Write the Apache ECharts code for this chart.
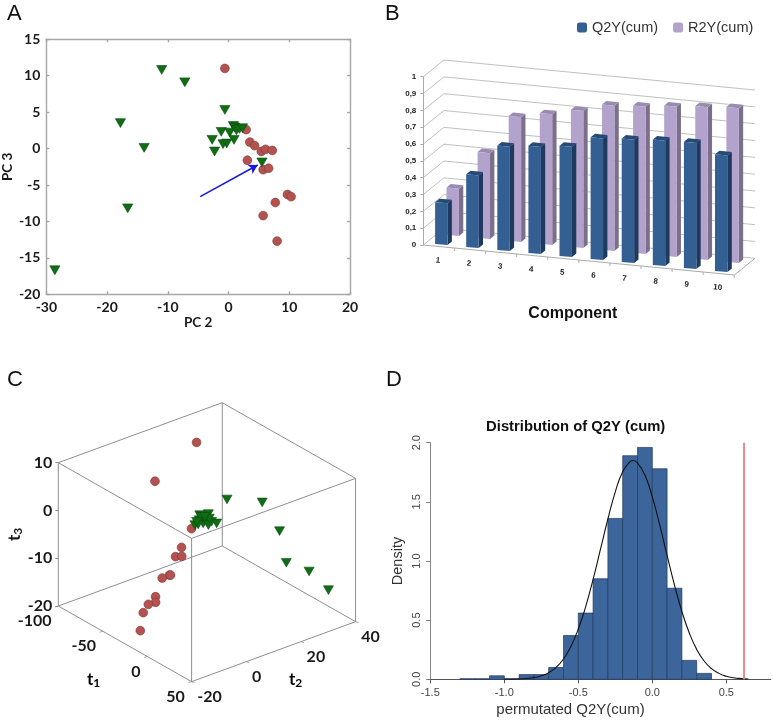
<!DOCTYPE html>
<html>
<head>
<meta charset="utf-8">
<style>html,body{margin:0;padding:0;background:#fff}#c{width:773px;height:720px}</style>
<script src="https://cdn.jsdelivr.net/npm/echarts@6/dist/echarts.min.js"></script>
</head>
<body>
<div id="c"></div>
<script>
// Panel A
const pcRed = [[-0.6,11],[2.9,2.6],[3.5,0.9],[4.3,0.4],[5.4,-0.4],[6.1,-0.1],[7.2,-0.25],[3.1,-1.6],[5.7,-2.9],[6.6,-2.7],[9.7,-6.3],[10.3,-6.6],[7.7,-7.4],[5.7,-9.2],[8,-12.7]];
const pcGreen = [[-11,10.8],[-7.2,9.1],[-0.6,5.3],[-17.8,3.5],[-13.9,0.1],[-16.6,-8.2],[-28.6,-16.7],[-1.2,2.3],[0.8,3.1],[1,2.9],[0.2,2.2],[1.3,2.5],[1.8,2.7],[2.3,2.8],[0.9,1.2],[-2.7,1.2],[-2.3,-0.4],[-0.9,0.6],[-0.3,0.7],[5.5,-1.9]];
const arrowFrom = [-4.67,-6.6];
const arrowTo = [4.8,-2.25];
// Panel B
const components = ['1','2','3','4','5','6','7','8','9','10'];
const q2y = [0.248,0.432,0.62,0.637,0.655,0.723,0.733,0.745,0.749,0.693];
const r2y = [0.281,0.509,0.741,0.776,0.814,0.863,0.875,0.893,0.907,0.919];
const wallTicks = [0,0.1,0.2,0.3,0.4,0.5,0.6,0.7,0.8,0.9,1];
// Panel C  [t1,t2,t3]
const tRed = [[-69.3,20.6,9],[-63.8,3.6,5],[-19.3,2.5,0],[-12.7,-3.3,-2],[-9.9,-6.4,-3],[-7.5,-4.9,-3],[-1.9,-11.2,-5],[-1.5,-14,-5],[-1.4,-11,-5],[0.8,-17.2,-8],[1.8,-17.5,-9],[1,-19.9,-9],[-8.4,-18.7,-12],[-11.1,-18.9,-16]];
const tGreen = [[-39,21.9,0],[-31.4,32.3,-2],[-12.2,32.4,-6],[5.9,29,-10],[14.9,34.4,-12],[28.7,37,-15],[-32.1,9.7,0],[-29.6,12,0],[-22.2,4.7,0],[-26.3,7.6,0],[-20.6,7.2,0],[-23.4,9.1,0],[-16.3,7.7,0],[-18.9,9.7,0],[-14.7,10.2,0],[-21.6,5.7,0],[-29.6,9.3,0],[-23.9,10.5,0],[-25.5,6.4,0],[-27.9,10.2,0]];
const t1Ticks = [-100,-50,0,50];
const t2Ticks = [-20,0,20,40];
const cubeEdges = [
 [[-100,-20,-20],[50,-20,-20]],[[50,-20,-20],[50,40,-20]],[[50,40,-20],[-100,40,-20]],[[-100,40,-20],[-100,-20,-20]],
 [[-100,-20,10],[50,-20,10]],[[50,-20,10],[50,40,10]],[[50,40,10],[-100,40,10]],[[-100,40,10],[-100,-20,10]],
 [[-100,-20,-20],[-100,-20,10]],[[50,-20,-20],[50,-20,10]],[[50,40,-20],[50,40,10]],[[-100,40,-20],[-100,40,10]]
];
// Panel D
const binStart = [-1.3,-1.2,-1.1,-1.0,-0.9,-0.8,-0.7,-0.6,-0.5,-0.4,-0.3,-0.2,-0.1,0,0.1,0.2,0.3];
const binDensity = [0.005,0.005,0.03,0.005,0.04,0.04,0.1,0.37,0.56,0.85,1.36,1.89,1.96,1.78,0.77,0.16,0.05];
const curve = [[-1,0.0005],[-0.9,0.003],[-0.8,0.015],[-0.75,0.03],[-0.7,0.056],[-0.65,0.101],[-0.6,0.172],[-0.55,0.278],[-0.5,0.425],[-0.45,0.615],[-0.4,0.845],[-0.35,1.1],[-0.3,1.355],[-0.25,1.585],[-0.2,1.755],[-0.15,1.84],[-0.13,1.85],[-0.1,1.83],[-0.05,1.727],[0,1.542],[0.05,1.306],[0.1,1.047],[0.15,0.796],[0.2,0.573],[0.25,0.392],[0.3,0.253],[0.35,0.155],[0.4,0.09],[0.45,0.05],[0.5,0.026],[0.55,0.013],[0.6,0.006],[0.65,0.002]];
const observed = 0.62;

const LATO = 'Lato', ARIAL = 'Liberation Sans';
const RED = '#b5524f', REDB = '#763c3a', GREEN = '#0f6e14', GREENB = '#0c4a10';

// Oblique projections layered on the hidden cartesian scales
function obl(api, c, d, v) {
  const p = api.coord([c, v]);
  return [p[0] + 20.67 * d, p[1] + 3 * c - 16.67 * d];
}
function cube(api, t1, t2, t3) {
  const p = api.coord([t1, t3]);
  return [p[0] + (t2 + 20) * 2.733, p[1] + (t1 + 100) * 0.5044 - (t2 + 20)];
}
function barSeries(name, values, depth, front, side, top) {
  const dz = 0.21, w = 0.4;
  return {
    type: 'custom', name, xAxisIndex: 2, yAxisIndex: 2, z: depth < 0.5 ? 4 : 3,
    itemStyle: { color: front },
    data: values.map((v, i) => [i + 0.5, v]),
    renderItem(params, api) {
      const c = api.value(0), v = api.value(1), l = c - w / 2, r = c + w / 2, d0 = depth, d1 = depth + dz;
      const P = (x, d, h) => obl(api, x, d, h);
      return { type: 'group', children: [
        { type: 'polygon', shape: { points: [P(r, d0, 0), P(r, d1, 0), P(r, d1, v), P(r, d0, v)] }, style: { fill: side } },
        { type: 'polygon', shape: { points: [P(l, d0, v), P(r, d0, v), P(r, d1, v), P(l, d1, v)] }, style: { fill: top } },
        { type: 'polygon', shape: { points: [P(l, d0, 0), P(r, d0, 0), P(r, d0, v), P(l, d0, v)] }, style: { fill: front } }
      ] };
    }
  };
}
function tMarks(name, arr, kind) {
  return {
    type: 'custom', name, xAxisIndex: 3, yAxisIndex: 3, z: 5, data: arr,
    renderItem(params, api) {
      const p = cube(api, api.value(0), api.value(1), api.value(2));
      if (kind === 'circle') {
        return { type: 'circle', shape: { cx: p[0], cy: p[1], r: 4.4 }, style: { fill: RED, stroke: REDB, lineWidth: 0.6 } };
      }
      return { type: 'polygon', shape: { points: [[p[0] - 5, p[1] - 4.2], [p[0] + 5, p[1] - 4.2], [p[0], p[1] + 4.4]] }, style: { fill: GREEN, stroke: GREENB, lineWidth: 0.6 } };
    }
  };
}
const grayLine = { lineStyle: { color: '#a6a6a6', width: 1.4 } };
const boldLabel = { fontFamily: LATO, fontWeight: 'bold', fontSize: 14, color: '#1a1a1a' };
const subRich = { a: { fontFamily: LATO, fontWeight: 'bold', fontSize: 17, color: '#1a1a1a' }, b: { fontFamily: LATO, fontWeight: 'bold', fontSize: 12, color: '#1a1a1a', padding: [7, 0, 0, 0] } };

const option = {
  backgroundColor: '#fff',
  animation: false,
  textStyle: { fontFamily: ARIAL },
  title: [{ text: 'Distribution of Q2Y (cum)', left: 570.7, top: 414, textAlign: 'center',
    textStyle: { fontFamily: ARIAL, fontWeight: 'bold', fontSize: 14.8, color: '#111' } }],
  legend: { left: 572, top: 15, itemWidth: 10, itemHeight: 10, itemGap: 15, data: ['Q2Y(cum)', 'R2Y(cum)'],
    textStyle: { fontFamily: ARIAL, fontSize: 14.5, color: '#333' } },
  grid: [
    { left: 42.7, top: 39.3, width: 307.3, height: 255 },
    { left: 423.3, top: 76.7, width: 311, height: 168.3 },
    { left: 58.3, top: 462.7, width: 133.3, height: 143.3 },
    { left: 430.3, top: 442.7, width: 340.4, height: 236.6 }
  ],
  xAxis: [
    { gridIndex: 0, type: 'value', min: -30, max: 20, interval: 10, splitLine: { show: false },
      axisLine: { onZero: false, ...grayLine }, axisTick: { inside: true, length: 3, ...grayLine },
      axisLabel: { ...boldLabel, margin: 6 }, name: 'PC 2', nameLocation: 'middle', nameGap: 20,
      nameTextStyle: { ...boldLabel, fontSize: 13.5 } },
    { gridIndex: 0, type: 'value', position: 'top', min: -30, max: 20, interval: 10, splitLine: { show: false },
      axisLine: { onZero: false, ...grayLine }, axisTick: { inside: true, length: 3, ...grayLine }, axisLabel: { show: false } },
    { gridIndex: 1, type: 'value', min: 0, max: 10, splitLine: { show: false }, axisLine: { show: false, onZero: false }, axisTick: { show: false },
      axisLabel: { show: false }, name: 'Component', nameLocation: 'middle', nameGap: 61,
      nameTextStyle: { fontFamily: ARIAL, fontWeight: 'bold', fontSize: 16, color: '#111', padding: [0, 12, 0, 0] } },
    { gridIndex: 2, type: 'value', min: -100, max: 50, splitLine: { show: false }, axisLine: { show: false, onZero: false }, axisTick: { show: false }, axisLabel: { show: false } },
    { gridIndex: 3, type: 'value', min: -1.5, max: 0.8, interval: 0.5, splitLine: { show: false },
      axisLine: { onZero: false, lineStyle: { color: '#555', width: 1 } },
      axisTick: { length: 4, lineStyle: { color: '#555' }, customValues: [-1.5, -1, -0.5, 0, 0.5] },
      axisLabel: { fontFamily: ARIAL, fontSize: 11, color: '#444', margin: 8, customValues: [-1.5, -1, -0.5, 0, 0.5], formatter: v => v.toFixed(1) },
      name: 'permutated Q2Y(cum)', nameLocation: 'middle', nameGap: 23, nameTextStyle: { fontFamily: ARIAL, fontSize: 15, color: '#333', padding: [0, 60, 0, 0] } }
  ],
  yAxis: [
    { gridIndex: 0, type: 'value', min: -20, max: 15, interval: 5, splitLine: { show: false },
      axisLine: { onZero: false, ...grayLine }, axisTick: { inside: true, length: 3, ...grayLine },
      axisLabel: { ...boldLabel, margin: 6 }, name: 'PC 3', nameLocation: 'middle', nameGap: 28,
      nameTextStyle: { ...boldLabel, fontSize: 13.5 } },
    { gridIndex: 0, type: 'value', position: 'right', min: -20, max: 15, interval: 5, splitLine: { show: false },
      axisLine: { onZero: false, ...grayLine }, axisTick: { inside: true, length: 3, ...grayLine }, axisLabel: { show: false } },
    { gridIndex: 1, type: 'value', min: 0, max: 1, interval: 0.1, splitLine: { show: false },
      axisLine: { onZero: false, lineStyle: { color: '#aaa', width: 1 } }, axisTick: { length: 3, lineStyle: { color: '#aaa' } },
      axisLabel: { fontFamily: ARIAL, fontWeight: 'bold', fontSize: 8, color: '#222', margin: 7,
        formatter: v => String(+v.toFixed(1)).replace('.', ',') } },
    { gridIndex: 2, type: 'value', min: -20, max: 10, interval: 10, splitLine: { show: false }, axisLine: { show: false, onZero: false },
      axisTick: { show: true, length: 3, lineStyle: { color: '#8f8f8f' } },
      axisLabel: { ...boldLabel, fontSize: 16, margin: 6 },
      name: '{a|t}{b|3}', nameLocation: 'middle', nameGap: 24, nameTextStyle: { rich: subRich } },
    { gridIndex: 3, type: 'value', min: 0, max: 2, interval: 0.5, splitLine: { show: false },
      axisLine: { onZero: false, lineStyle: { color: '#888', width: 1 } }, axisTick: { length: 4, lineStyle: { color: '#777' } },
      axisLabel: { fontFamily: ARIAL, fontSize: 11, color: '#444', rotate: 90, margin: 8, formatter: v => v.toFixed(1) },
      name: 'Density', nameLocation: 'middle', nameGap: 25, nameTextStyle: { fontFamily: ARIAL, fontSize: 14.5, color: '#333' } }
  ],
  series: [
    // A
    { type: 'scatter', xAxisIndex: 0, yAxisIndex: 0, data: pcRed, symbol: 'circle', symbolSize: 8.8, z: 3,
      itemStyle: { color: RED, borderColor: REDB, borderWidth: 0.6, opacity: 1 } },
    { type: 'scatter', xAxisIndex: 0, yAxisIndex: 0, data: pcGreen, symbol: 'triangle', symbolRotate: 180, symbolSize: [10.2, 8.8], z: 4,
      itemStyle: { color: GREEN, borderColor: GREENB, borderWidth: 0.6, opacity: 1 },
      markLine: { silent: true, animation: false, symbol: ['none', 'arrow'], symbolSize: [8, 9], label: { show: false },
        lineStyle: { color: '#1717dd', width: 1.5, type: 'solid' },
        data: [[{ coord: arrowFrom }, { coord: arrowTo }]] } },
    // B walls
    { type: 'custom', xAxisIndex: 2, yAxisIndex: 2, z: 1, data: wallTicks.map(v => [v]), silent: true,
      renderItem(params, api) {
        const v = api.value(0);
        return { type: 'polyline', shape: { points: [obl(api, 0, 0, v), obl(api, 0, 1, v), obl(api, 10, 1, v)] },
          style: { fill: 'none', stroke: '#b0b0b0', lineWidth: 0.8 } };
      } },
    { type: 'custom', xAxisIndex: 2, yAxisIndex: 2, z: 1, data: [[0]], silent: true,
      renderItem(params, api) {
        return { type: 'polyline', shape: { points: [obl(api, 0, 0, 0), obl(api, 10, 0, 0), obl(api, 10, 1, 0)] },
          style: { fill: 'none', stroke: '#a0a0a0', lineWidth: 0.9 } };
      } },
    { type: 'custom', xAxisIndex: 2, yAxisIndex: 2, z: 2, data: components.map((c, i) => [i + 0.5]), silent: true,
      renderItem(params, api) {
        const c = api.value(0), a = obl(api, c + 0.5, 0, 0), m = obl(api, c, 0, 0);
        return { type: 'group', children: [
          { type: 'line', shape: { x1: a[0], y1: a[1], x2: a[0], y2: a[1] + 3 }, style: { stroke: '#a0a0a0', lineWidth: 0.8 } },
          { type: 'text', x: m[0] - 1, y: m[1] + 14, rotation: -0.09, style: { text: components[params.dataIndex],
            fontFamily: ARIAL, fontWeight: 'bold', fontSize: 8, fill: '#222', align: 'center', verticalAlign: 'middle' } }
        ] };
      } },
    barSeries('R2Y(cum)', r2y, 0.67, '#b3a2cb', '#7b6f8c', '#9a8cb0'),
    barSeries('Q2Y(cum)', q2y, 0.12, '#335f93', '#1f3a5f', '#264a75'),
    // C frame
    { type: 'custom', xAxisIndex: 3, yAxisIndex: 3, z: 1, data: cubeEdges.map(e => [e[0][0], e[0][1], e[0][2], e[1][0], e[1][1], e[1][2]]), silent: true,
      renderItem(params, api) {
        const a = cube(api, api.value(0), api.value(1), api.value(2)), b = cube(api, api.value(3), api.value(4), api.value(5));
        return { type: 'line', shape: { x1: a[0], y1: a[1], x2: b[0], y2: b[1] }, style: { stroke: '#8f8f8f', lineWidth: 1 } };
      } },
    { type: 'custom', xAxisIndex: 3, yAxisIndex: 3, z: 2, data: t1Ticks.map(v => [v]), silent: true,
      renderItem(params, api) {
        const p = cube(api, api.value(0), -20, -20);
        return { type: 'group', children: [
          { type: 'line', shape: { x1: p[0], y1: p[1], x2: p[0] - 3, y2: p[1] + 1 }, style: { stroke: '#8f8f8f', lineWidth: 0.8 } },
          { type: 'text', x: p[0] - 6.7, y: p[1] + 15, style: { text: String(t1Ticks[params.dataIndex]),
            fontFamily: LATO, fontWeight: 'bold', fontSize: 16, fill: '#1a1a1a', align: 'right', verticalAlign: 'middle' } }
        ] };
      } },
    { type: 'custom', xAxisIndex: 3, yAxisIndex: 3, z: 2, data: t2Ticks.map(v => [v]), silent: true,
      renderItem(params, api) {
        const p = cube(api, 50, api.value(0), -20);
        return { type: 'group', children: [
          { type: 'line', shape: { x1: p[0], y1: p[1], x2: p[0] + 3, y2: p[1] + 1 }, style: { stroke: '#8f8f8f', lineWidth: 0.8 } },
          { type: 'text', x: p[0] + 5.7, y: p[1] + 15, style: { text: String(t2Ticks[params.dataIndex]),
            fontFamily: LATO, fontWeight: 'bold', fontSize: 16, fill: '#1a1a1a', align: 'left', verticalAlign: 'middle' } }
        ] };
      } },
    tMarks('red', tRed, 'circle'),
    tMarks('green', tGreen, 'triangle'),
    // D
    { type: 'custom', xAxisIndex: 4, yAxisIndex: 4, z: 2, data: binStart.map((s, i) => [s, binDensity[i]]), silent: true,
      renderItem(params, api) {
        const s = api.value(0), v = api.value(1), a = api.coord([s, 0]), b = api.coord([s + 0.1, v]);
        return { type: 'rect', shape: { x: a[0], y: b[1], width: b[0] - a[0], height: a[1] - b[1] },
          style: { fill: '#3c659c', stroke: '#22395c', lineWidth: 0.7 } };
      } },
    { type: 'line', xAxisIndex: 4, yAxisIndex: 4, z: 3, data: curve, smooth: true, showSymbol: false, symbol: 'none',
      lineStyle: { color: '#111', width: 1.1 }, silent: true },
    { type: 'line', xAxisIndex: 4, yAxisIndex: 4, z: 3, data: [[observed, 0], [observed, 2]], showSymbol: false, symbol: 'none',
      lineStyle: { color: '#e58a8f', width: 2 }, silent: true }
  ],
  graphic: [
    { type: 'text', left: 7, top: 3, style: { text: 'A', fontFamily: ARIAL, fontSize: 22, fill: '#111' } },
    { type: 'text', left: 385, top: 3, style: { text: 'B', fontFamily: ARIAL, fontSize: 22, fill: '#111' } },
    { type: 'text', left: 7, top: 369, style: { text: 'C', fontFamily: ARIAL, fontSize: 22, fill: '#111' } },
    { type: 'text', left: 386, top: 369, style: { text: 'D', fontFamily: ARIAL, fontSize: 22, fill: '#111' } },
    { type: 'text', left: 87, top: 671, style: { text: '{a|t}{b|1}', rich: subRich } },
    { type: 'text', left: 289, top: 671, style: { text: '{a|t}{b|2}', rich: subRich } }
  ]
};
const chart = echarts.init(document.getElementById('c'), null, { renderer: 'canvas', width: 773, height: 720 });
chart.setOption(option);
</script>
</body>
</html>
